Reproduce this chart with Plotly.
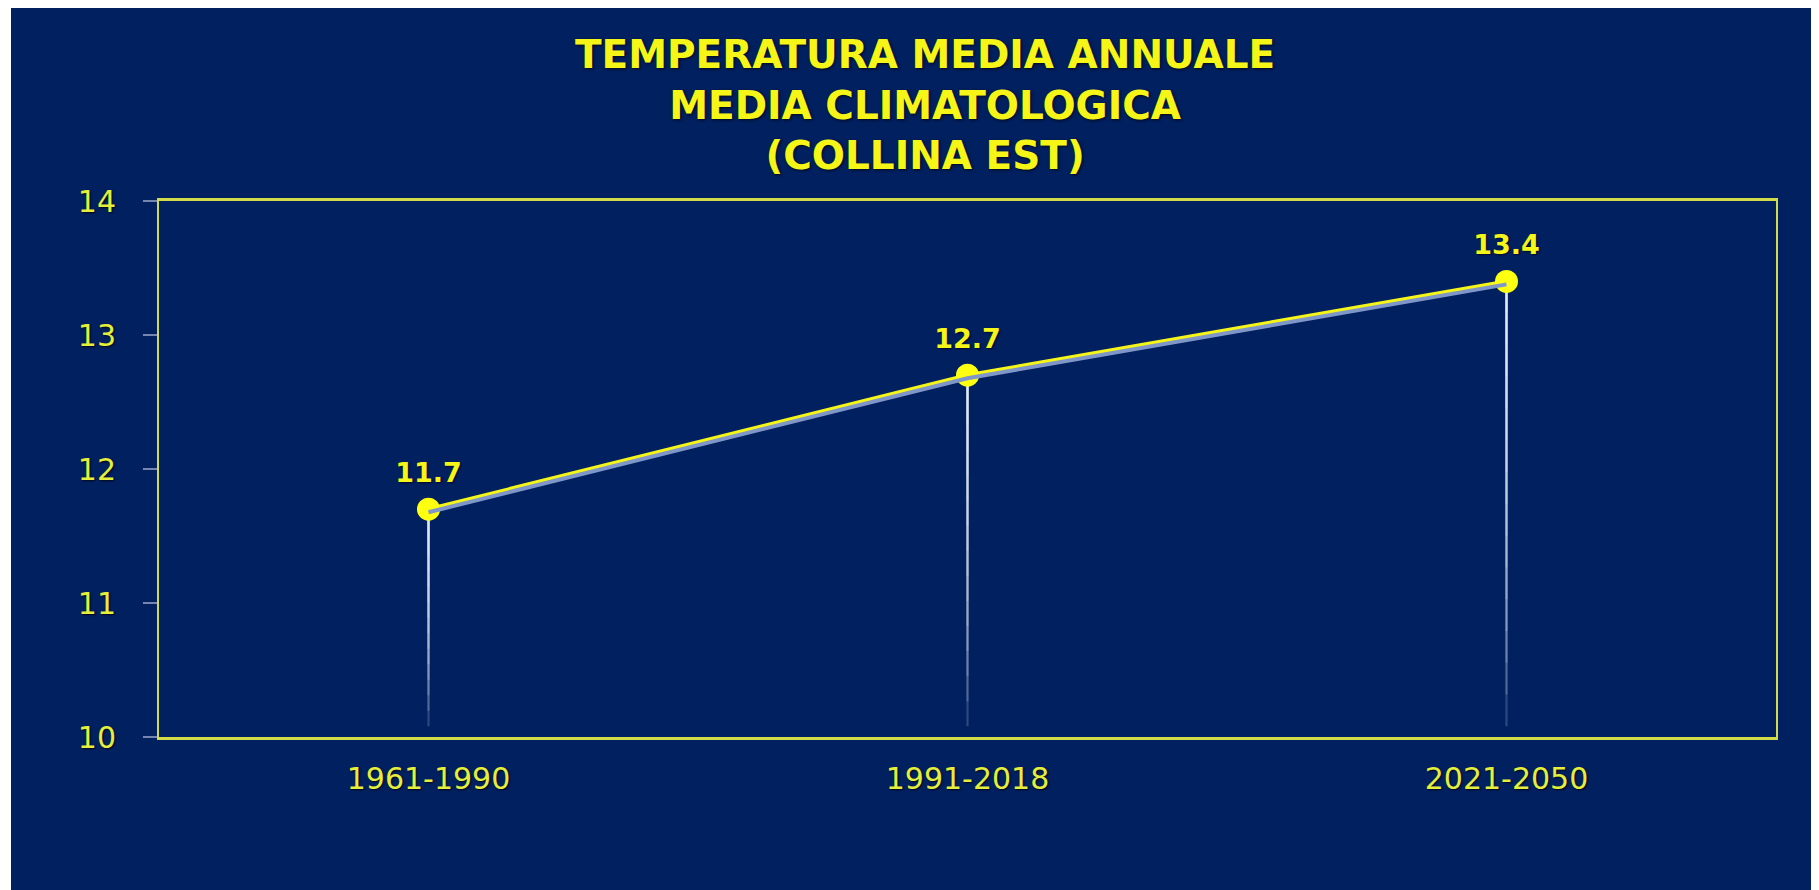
import plotly.graph_objects as go

# ---- data ----
periods = ["1961-1990", "1991-2018", "2021-2050"]
temps = [11.7, 12.7, 13.4]
temp_labels = ["11.7", "12.7", "13.4"]
y_ticks = [10, 11, 12, 13, 14]
title_lines = ["TEMPERATURA MEDIA ANNUALE", "MEDIA CLIMATOLOGICA", "(COLLINA EST)"]

# ---- layout geometry (figure pixels; page adds the 8px body margin) ----
W, H = 1811, 882
ML, MR, MT, MB = 151, 43, 193, 153
PW, PH = W - ML - MR, H - MT - MB
Y_MIN, Y_MAX = 10, 14
NAVY = "#002060"
YELLOW = "#f5f518"
TICK_YELLOW = "#e6ee3c"
FRAME = "#d2dc4a"

fig = go.Figure()

# drop lines with fading gradient (overlapping translucent segments)
drop_base = Y_MIN + 0.08
N = 14
for k in range(N):
    xs, ys = [], []
    for p, v in zip(periods, temps):
        low = drop_base + (v - drop_base) * k / N
        xs += [p, p, None]
        ys += [v, low, None]
    fig.add_trace(go.Scatter(
        x=xs, y=ys, mode="lines",
        line=dict(color="rgba(240,244,255,0.19)", width=2.2),
        hoverinfo="skip", showlegend=False,
    ))

# soft blue shadow under the line (same data, slightly shifted axis)
fig.add_trace(go.Scatter(
    x=periods, y=temps, mode="lines", yaxis="y2",
    line=dict(color="#7f96c8", width=4),
    hoverinfo="skip", showlegend=False,
))

# main line + markers
fig.add_trace(go.Scatter(
    x=periods, y=temps, mode="lines+markers",
    line=dict(color=YELLOW, width=4),
    marker=dict(color="#ffff10", size=23, line=dict(width=0)),
    showlegend=False,
))

# value labels (transparent larger marker to set the text gap)
fig.add_trace(go.Scatter(
    x=periods, y=temps, mode="markers+text",
    marker=dict(color="rgba(0,0,0,0)", size=31),
    text=temp_labels, textposition="top center",
    textfont=dict(family="DejaVu Sans", size=27, color=YELLOW, weight="bold",
                  shadow="1px 1px 2px #000a28"),
    hoverinfo="skip", showlegend=False,
))

shift = 3 / PH * (Y_MAX - Y_MIN)

fig.update_layout(
    width=W, height=H,
    margin=dict(l=ML, r=MR, t=MT, b=MB, pad=0),
    paper_bgcolor=NAVY,
    plot_bgcolor=NAVY,
    showlegend=False,
    title=dict(
        text="<br>".join(title_lines),
        x=0.5064, xref="container", xanchor="center",
        y=1 - 60 / H, yref="container", yanchor="top",
        font=dict(family="DejaVu Sans", size=39, color=YELLOW, weight="bold",
                  shadow="1px 1px 3px #000818"),
    ),
    xaxis=dict(
        type="category", range=[-0.5, 2.5],
        showgrid=False, zeroline=False,
        showline=True, linecolor=FRAME, linewidth=2.5, mirror=True,
        ticks="", ticklabelstandoff=13,
        tickfont=dict(family="DejaVu Sans", size=30, color=TICK_YELLOW,
                      shadow="1px 1px 2px #000818"),
        automargin=False,
    ),
    yaxis=dict(
        range=[Y_MIN, Y_MAX], tickvals=y_ticks,
        showgrid=False, zeroline=False,
        showline=True, linecolor=FRAME, linewidth=2, mirror=True,
        ticks="outside", ticklen=14, tickwidth=1.5, tickcolor="#7585b0",
        ticklabelstandoff=21,
        tickfont=dict(family="DejaVu Sans", size=30, color=TICK_YELLOW,
                      shadow="1px 1px 2px #000818"),
        automargin=False,
    ),
    yaxis2=dict(
        overlaying="y", range=[Y_MIN + shift, Y_MAX + shift],
        visible=False, showgrid=False, zeroline=False,
    ),
    shapes=[dict(
        type="rect", xref="paper", yref="paper", layer="above",
        x0=(0 - ML) / PW - 0.01, x1=(3 - ML) / PW,
        y0=-MB / PH - 0.05, y1=(PH + MT) / PH + 0.05,
        fillcolor="white", line=dict(width=0),
    )],
)

fig.write_html("out.html")
